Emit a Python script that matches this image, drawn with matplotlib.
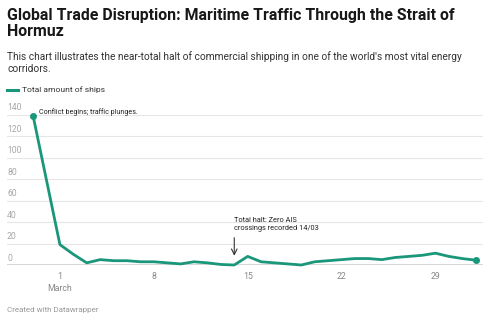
import matplotlib
matplotlib.use("Agg")
import matplotlib.pyplot as plt
import matplotlib.transforms as mtransforms

# days relative to 1 March (Feb 27 = -1)
days = [-1, 1, 2, 3, 4, 5, 6, 7, 8, 9, 10, 11, 12, 13, 14, 15, 16, 17, 18, 19,
        20, 21, 22, 23, 24, 25, 26, 27, 28, 29, 30, 31, 32]
ships = [139, 19, 10, 2, 5, 4, 4, 3, 3, 2, 1, 3, 2, 0.5, 0, 8, 3, 2, 1, 0,
         3, 4, 5, 6, 6, 5, 7, 8, 9, 11, 8, 6, 4.5]

x_ticks = [1, 8, 15, 22, 29]
x_labels = ["1\nMarch", "8", "15", "22", "29"]
y_ticks = [0, 20, 40, 60, 80, 100, 120, 140]

LINE = "#1a967a"
GRID = "#e6e6e6"
TICK = "#a8a8a8"

plt.rcParams["font.family"] = ["Roboto", "DejaVu Sans"]

W, H = 490, 322
fig = plt.figure(figsize=(W / 100, H / 100), dpi=100)

# axes placed in pixel coords: left 7, right 483, y=0 at 265, y=140 at 114.7
x0, x1 = 7, 483
ybot, ytop = 265.0, 114.7
ax = fig.add_axes([x0 / W, (H - ybot) / H, (x1 - x0) / W, (ybot - ytop) / H])

px_per_day = 13.37
ax.set_xlim(-1 - (33 - x0) / px_per_day, 32 + (x1 - 475.7) / px_per_day)
ax.set_ylim(0, 140)

for s in ax.spines.values():
    s.set_visible(False)
ax.set_yticks([])
for yv in y_ticks[1:]:
    ax.axhline(yv, color=GRID, lw=0.8, zorder=0)
ax.axhline(0, color="#333333", lw=1.0, zorder=1)

trans = mtransforms.blended_transform_factory(ax.transAxes, ax.transData)
for yv in y_ticks:
    ax.text(0, yv + 2.2, str(yv), transform=trans, ha="left", va="bottom",
            fontsize=6.2, color=TICK)

ax.set_xticks(x_ticks)
ax.set_xticklabels(x_labels, fontsize=6.3, color="#888888", linespacing=1.45)
ax.tick_params(axis="x", length=0, pad=5)

ax.plot(days, ships, color=LINE, lw=2, solid_joinstyle="round", clip_on=False, zorder=3)
ax.plot([days[0], days[-1]], [ships[0], ships[-1]], "o", color=LINE, ms=4,
        clip_on=False, zorder=4)

ax.text(days[0] + 0.45, ships[0] + 3, "Conflict begins; traffic plunges.",
        fontsize=5.1, color="#222222", va="center", ha="left")
ax.annotate("", xy=(14, 6), xytext=(14, 28),
            arrowprops=dict(arrowstyle="->", color="#333333", lw=0.8))
ax.text(13.95, 31, "Total halt: Zero AIS\ncrossings recorded 14/03",
        fontsize=5.3, color="#222222", ha="left", va="bottom", linespacing=1.1)

# header
fig.text(7 / W, 1 - 8 / H, "Global Trade Disruption: Maritime Traffic Through the Strait of\nHormuz",
         fontsize=11.4, fontweight="bold", color="#181818", ha="left", va="top",
         linespacing=1.05)
fig.text(7 / W, 1 - 51 / H,
         "This chart illustrates the near-total halt of commercial shipping in one of the world's most vital energy\ncorridors.",
         fontsize=7.3, color="#333333", ha="left", va="top", linespacing=1.25)

# legend
fig.add_artist(plt.Line2D([7 / W, 18 / W], [1 - 90 / H, 1 - 90 / H], color=LINE, lw=2.2))
fig.text(22 / W, 1 - 90 / H, "Total amount of ships", fontsize=6.1, color="#333333",
         ha="left", va="center")

fig.text(7 / W, 1 - 310 / H, "Created with Datawrapper", fontsize=5.75, color="#999999",
         ha="left", va="center")

fig.savefig("out.png", dpi=100)
